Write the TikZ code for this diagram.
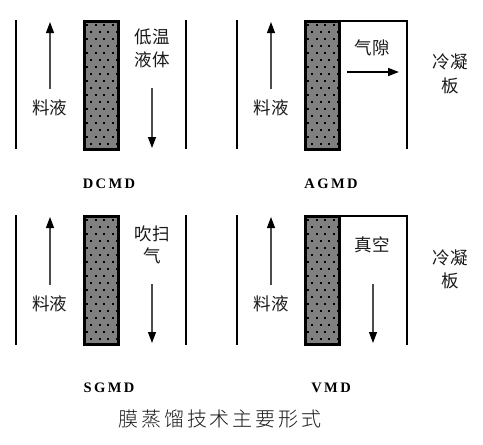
\documentclass[tikz,border=0pt]{standalone}
\usepackage{fontspec}
\setmainfont{Liberation Serif}
\newfontfamily\cjk{Noto Sans CJK SC}
\newfontfamily\cjklight{Noto Sans CJK SC Light}
\usetikzlibrary{arrows.meta}
\tikzset{
  wall/.style={line width=2.2pt,black},
  flow/.style={line width=1.1pt,black!70,-{Triangle[length=11pt,width=8pt,black]}},
  lab/.style={font=\cjk\fontsize{17.5}{17.5}\selectfont,inner sep=0pt,text=black!90},
  captext/.style={font=\bfseries\fontsize{14.5}{14.5}\selectfont,inner sep=0pt,text=black}
}
\newcommand{\membrane}[2]{%
  \fill[black!50] (#1,#2) rectangle ++(34,128);
  \foreach \r in {0,...,17}{
    \pgfmathsetmacro{\off}{mod(\r,2)*4}
    \foreach \c in {0,...,3}{
      \fill[black] ({#1+2+\off+\c*8.5},{#2+3+\r*7}) rectangle ++(2.3,2.3);
    }
  }
  \draw[black,line width=3pt] (#1,#2) rectangle ++(34,128);
}
\begin{document}
\begin{tikzpicture}[x=1pt,y=-1pt]
\useasboundingbox (0,0) rectangle (483,445);
% ---- top left
\coordinate (a1) at (16,20); \coordinate (a2) at (16,149);
\coordinate (b1) at (186,20); \coordinate (b2) at (186,149);
\draw[wall] (a1)--(a2); \draw[wall] (b1)--(b2);
\membrane{84}{21}
\coordinate (f1) at (50,89); \coordinate (f2) at (50,22);
\draw[flow] (f1)--(f2);
\node[lab] (l1) at (50,108) {料液};
\node[lab] (l2) at (152,37) {低温};
\node[lab] (l3) at (152,60) {液体};
\coordinate (f3) at (152,88); \coordinate (f4) at (152,148);
\draw[flow] (f3)--(f4);
\node[captext] (t1) at (109,184) {D\,C\,M\,D};
% ---- top right
\coordinate (c1) at (237,20); \coordinate (c2) at (237,149);
\draw[wall] (c1)--(c2);
\membrane{305}{21}
\coordinate (d1) at (339,21); \coordinate (d2) at (407,21); \coordinate (d3) at (407,149);
\draw[wall] (d1)--(d2)--(d3);
\coordinate (f5) at (271,89); \coordinate (f6) at (271,22);
\draw[flow] (f5)--(f6);
\node[lab] (l4) at (271,108) {料液};
\node[lab] (l5) at (372,48) {气隙};
\coordinate (f7) at (347,72); \coordinate (f8) at (399,72);
\draw[flow,line width=1.6pt,black] (f7)--(f8);
\node[lab] (l6) at (450,62) {冷凝};
\node[lab] (l7) at (450,86) {板};
\node[captext] (t2) at (331,184) {A\,G\,M\,D};
% ---- bottom left
\coordinate (e1) at (16,215); \coordinate (e2) at (16,345);
\coordinate (g1) at (186,215); \coordinate (g2) at (186,345);
\draw[wall] (e1)--(e2); \draw[wall] (g1)--(g2);
\membrane{84}{216}
\coordinate (f9) at (50,285); \coordinate (f10) at (50,217);
\draw[flow] (f9)--(f10);
\node[lab] (l8) at (50,304) {料液};
\node[lab] (l9) at (152,234) {吹扫};
\node[lab] (l10) at (152,256) {气};
\coordinate (f11) at (152,284); \coordinate (f12) at (152,343);
\draw[flow] (f11)--(f12);
\node[captext] (t3) at (109,388) {S\,G\,M\,D};
% ---- bottom right
\coordinate (h1) at (237,215); \coordinate (h2) at (237,345);
\draw[wall] (h1)--(h2);
\membrane{305}{216}
\coordinate (i1) at (339,216); \coordinate (i2) at (407,216); \coordinate (i3) at (407,345);
\draw[wall] (i1)--(i2)--(i3);
\coordinate (f13) at (271,285); \coordinate (f14) at (271,217);
\draw[flow] (f13)--(f14);
\node[lab] (l11) at (271,304) {料液};
\node[lab] (l12) at (372,245) {真空};
\coordinate (f15) at (373,284); \coordinate (f16) at (373,343);
\draw[flow] (f15)--(f16);
\node[lab] (l13) at (450,258) {冷凝};
\node[lab] (l14) at (450,281) {板};
\node[captext] (t4) at (331,388) {V\,M\,D};
% ---- title
\node[font=\cjklight\fontsize{20}{20}\selectfont,inner sep=0pt,text=black!90] (title) at (220,419) {膜\hspace{3pt}蒸\hspace{3pt}馏\hspace{3pt}技\hspace{3pt}术\hspace{3pt}主\hspace{3pt}要\hspace{3pt}形\hspace{3pt}式};
\end{tikzpicture}
\end{document}
